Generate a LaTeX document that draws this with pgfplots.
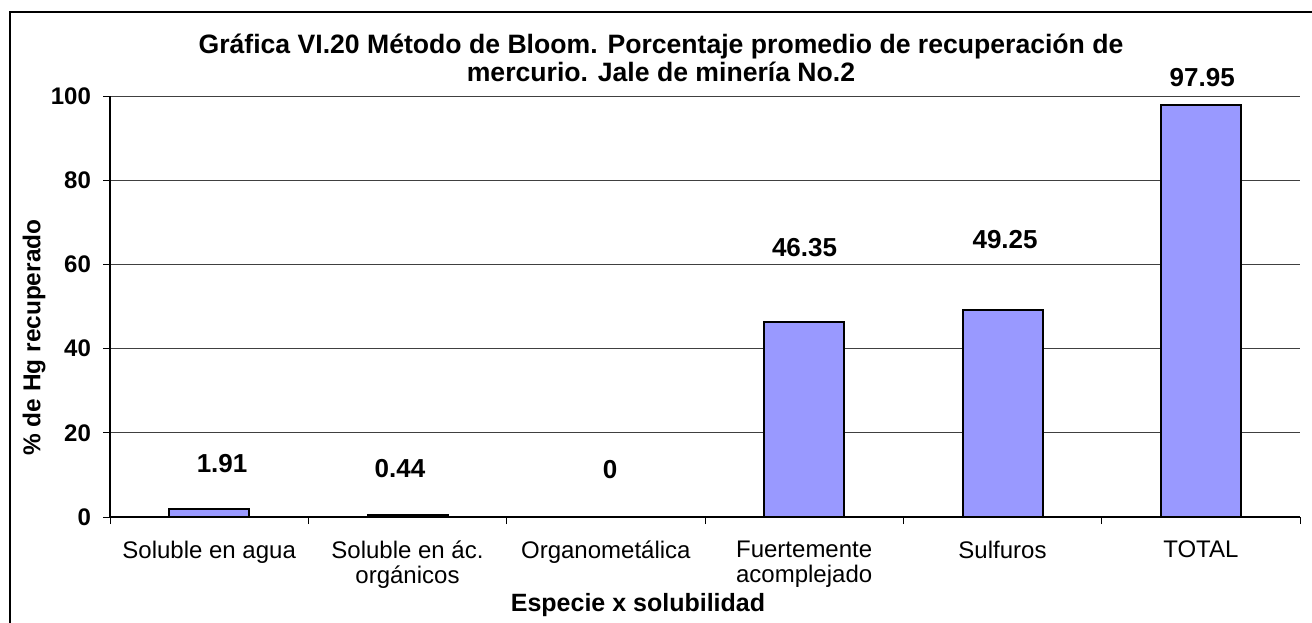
\documentclass[border=0pt]{standalone}
\usepackage{pgfplots}
\pgfplotsset{compat=1.18}
\usepackage{fontspec}
\setmainfont{Liberation Sans}
\usetikzlibrary{calc}
\definecolor{barfill}{RGB}{153,153,255}

\begin{document}
\begin{tikzpicture}
\begin{axis}[
    name=ax,
    scale only axis,
    width=595pt, height=210.5pt,
    xmin=-0.5, xmax=5.5,
    ymin=0, ymax=100,
    ytick={0,20,...,100},
    xtick={0,...,5},
    xticklabels={Soluble en agua, Soluble en ác.\\orgánicos, Organometálica, Fuertemente\\acomplejado, Sulfuros, TOTAL},
    x tick label style={font=\fontsize{12}{12.5}\selectfont, align=center, anchor=north, yshift=-5pt},
    y tick label style={font=\bfseries\fontsize{12}{12}\selectfont, xshift=-2.5pt},
    major x tick style={draw=none},
    minor xtick={-0.5,0.5,...,5.5},
    tick align=outside,
    major tick length=3.5pt, minor tick length=3.5pt,
    tick style={black, line width=0.5pt},
    axis x line*=bottom, axis y line*=left,
    axis line style={-, black, line width=0.6pt},
    ymajorgrids,
    grid style={black!75, line width=0.5pt},
    /pgf/number format/assume math mode=true,
    clip=false,
]
% bars
\addplot[ybar, bar width=40pt, fill=barfill, draw=black, line width=1pt]
  coordinates {(0,1.91)(1,0.44)(2,0)(3,46.35)(4,49.25)(5,97.95)};
% data labels, placed where the original has them
\addplot[draw=none, mark=none, nodes near coords, point meta=explicit symbolic,
  nodes near coords style={font=\bfseries\fontsize{13}{13}\selectfont, anchor=center}]
  coordinates {(0.065,12.8)[1.91] (0.962,11.6)[0.44] (2.021,11.2)[0] (3.002,63.9)[46.35] (4.013,65.8)[49.25] (5.007,104.5)[97.95]};
\end{axis}
\node[font=\bfseries\fontsize{13.3}{14.2}\selectfont, align=center]
  at ($(ax.north)+(-22pt,19pt)$)
  {Gráfica VI.20 Método de Bloom. Porcentaje promedio de recuperación de\\mercurio. Jale de minería No.2};
\node[font=\bfseries\fontsize{12.5}{14}\selectfont]
  at ($(ax.south)+(-33.5pt,-44pt)$) {Especie x solubilidad};
\node[font=\bfseries\fontsize{12.2}{14}\selectfont, rotate=90]
  at ($(ax.west)+(-38pt,-15.5pt)$) {\% de Hg recuperado};
\draw[line width=0.8pt] ($(ax.south west)+(-50pt,-70pt)$) -- ($(ax.north west)+(-50pt,42pt)$) -- ($(ax.north east)+(20pt,42pt)$);
\pgfresetboundingbox
\useasboundingbox ($(ax.south west)+(-55pt,-52.5pt)$) rectangle ($(ax.north east)+(6pt,48pt)$);
\end{tikzpicture}
\end{document}
